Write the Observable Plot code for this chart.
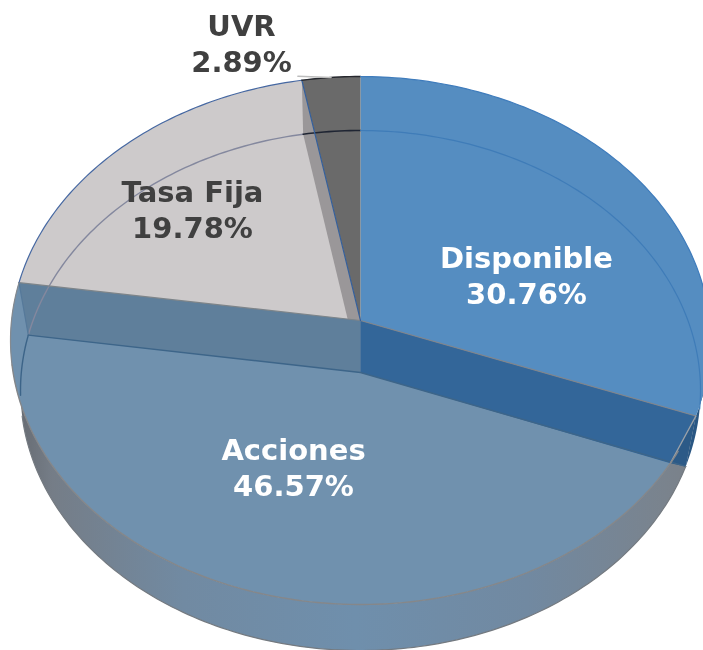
<!doctype html>
<html><head><meta charset="utf-8">
<script src="https://cdn.jsdelivr.net/npm/d3@7"></script>
<script src="https://cdn.jsdelivr.net/npm/@observablehq/plot@0.6"></script>
<style>html,body{margin:0;padding:0;background:#fff;overflow:hidden}svg{display:block;filter:blur(0.5px)}</style>
</head><body><div id="chart"></div>
<script>
// Data
const categories = ["Disponible", "Acciones", "Tasa Fija", "UVR"];
const shares = [30.76, 46.57, 19.78, 2.89];

// Styles and layout, separate from the data
const topFill = ["#558dc1", "#7091ae", "#cdcacb", "#6a6a6a"];
const labelColor = ["#ffffff", "#ffffff", "#404040", "#404040"];
const labelX = [526, 293, 192, 241];
const labelY = [274, 466, 208, 42];
const W = 703, H = 650;
const topDisc = {cx: 360, cy: 340, rx: 350, ry: 264, apex: 320};
const baseDisc = {cx: 360, cy: 390, rx: 340, ry: 260, apex: 372};

// Perspective projection of a pie angle (degrees, clockwise from 12 o'clock) on a disc
function rim(deg, d) {
  const t = deg * Math.PI / 180, u = Math.sin(t), v = -Math.cos(t);
  const c = (d.apex - d.cy) / d.ry, k = 1 + c * v;
  return {x: d.cx + d.rx * u * Math.sqrt(1 - c * c) / k, y: d.cy + d.ry * (v + c) / k};
}
function arc(a0, a1, d) {
  const n = Math.max(2, Math.ceil(Math.abs(a1 - a0))), out = [];
  for (let i = 0; i <= n; i++) out.push(rim(a0 + (a1 - a0) * i / n, d));
  return out;
}
const centre = d => ({x: d.cx, y: d.apex});
const total = d3.sum(shares);
const cum = d3.cumsum(shares).map(v => v / total * 360);
const [a1, a2, a3] = cum;                // slice boundaries

const poly = (pts, fill) => Plot.line(pts, {x: "x", y: "y", fill, stroke: "none"});
const edge = (pts, stroke, w = 1, o = 1) => Plot.line(pts, {x: "x", y: "y", stroke, strokeWidth: w, strokeOpacity: o, fill: "none"});

const T = topDisc, B = baseDisc;
const A0 = centre(T), B0 = centre(B);
const P1 = rim(a1, T), P2 = rim(a1, B);
// where the lower edge of the right inner wall meets the top rim
let aq = a1;
while (aq < a2) {
  const p = rim(aq, T);
  if (p.y > B0.y + (p.x - B0.x) * (P2.y - B0.y) / (P2.x - B0.x)) break;
  aq += 0.25;
}
const Q = rim(aq, T);

const defs = () => {
  const g = d3.create("svg:defs");
  const lg = g.append("linearGradient").attr("id", "wall").attr("gradientUnits", "userSpaceOnUse")
    .attr("x1", 10).attr("x2", 700).attr("y1", 0).attr("y2", 0);
  [[0, "#63676d"], [0.06, "#757d87"], [0.25, "#718aa2"], [0.5, "#6f8fac"], [0.75, "#7189a1"], [0.95, "#7a838d"], [1, "#7a8088"]]
    .forEach(([o, c]) => lg.append("stop").attr("offset", o).attr("stop-color", c));
  return g.node();
};

const labels = categories.map((c, i) => ({
  text: `${c}\n${shares[i].toFixed(2)}%`, x: labelX[i], y: labelY[i], color: labelColor[i]
}));

const plot = Plot.plot({
  width: W, height: H, margin: 0,
  x: {domain: [0, W], range: [0, W], axis: null},
  y: {domain: [0, H], range: [0, H], axis: null},
  style: {background: "#fff"},
  marks: [
    defs,
    // outer side walls
    poly([...arc(a1, a2, T), ...arc(a2, a1, B)], "url(#wall)"),
    poly([...arc(80, a1, T), ...arc(a1, 80, B)], "#2a5783"),
    // top faces
    poly([A0, ...arc(a1, a2, T)], topFill[1]),
    poly([A0, ...arc(a2, a3, T)], topFill[2]),
    poly([A0, ...arc(0, a1, T)], topFill[0]),
    // inner wall seen behind the UVR slice
    poly([rim(a3, T), rim(a3, B), B0, A0], "#9a9799"),
    poly([A0, ...arc(a3, 360, T)], topFill[3]),
    // inner walls seen through the front
    poly([A0, rim(a2, T), rim(a2, B), B0], "#5f7f9b"),
    poly([A0, P1, Q, B0], "#336699"),
    poly([P1, P2, Q], "#2c5a87"),
    // back rim of the base disc seen through the top
    edge(arc(a2, a3, B), "#84889e", 1.4),
    edge(arc(a3, 360, B), "#1f2533", 1.6),
    edge(arc(0, 98, B), "#3f7cb8", 1.2),
    edge(arc(a2, 265, B), "#3c6488", 1.4),
    // seams
    edge([rim(a2, T), rim(a2, B)], "#56799a", 1.2),
    edge([rim(a2, B), B0, P2], "#3d6589", 1.4),
    edge([rim(a2, T), A0], "#7d8489", 1.2),
    edge([A0, P1], "#80858c", 1.2),
    edge([P1, Q], "#9aa1a8", 1.4),
    edge([rim(a3, T), A0], "#35609c", 1.2),
    // top rim
    edge(arc(a2, a3, T), "#4668a2", 1.2),
    edge(arc(a3, 360, T), "#26282e", 1.4),
    edge(arc(0, 105, T), "#3f7cbc", 1.2),
    edge(arc(a1 + 8, a2 - 18, T), "#85878a", 1.4),
    edge(arc(a2 - 18, a2, T), "#858a90", 1.2),
    // outer silhouette of the base
    edge(arc(a1, a2 - 18, B), "#747a80", 1.2),
    // UVR leader
    edge([{x: rim(a3, T).x - 4, y: rim(a3, T).y - 4}, {x: rim((a3 + 360) / 2, T).x, y: rim((a3 + 360) / 2, T).y}], "#bdbdbd", 1.4),
    // labels
    Plot.text(labels, {
      x: "x", y: "y", text: "text", fill: "color", textAnchor: "middle",
      fontFamily: "DejaVu Sans", fontWeight: "bold", fontSize: 29, lineHeight: 1.25
    })
  ]
});
document.getElementById("chart").append(plot);
</script></body></html>
